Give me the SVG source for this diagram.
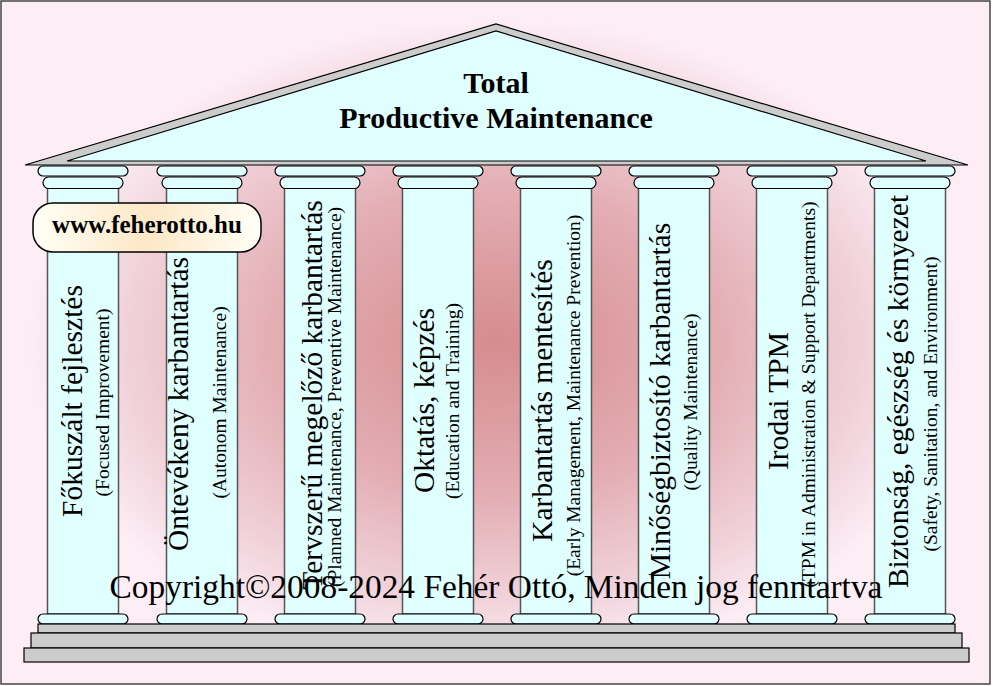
<svg xmlns="http://www.w3.org/2000/svg" width="993" height="686" viewBox="0 0 993 686">
<defs>
<radialGradient id="bg" cx="50%" cy="50%" r="50%">
<stop offset="0" stop-color="#d68c8e"/>
<stop offset="0.45" stop-color="#e3aeb4"/>
<stop offset="0.75" stop-color="#f1d2da"/>
<stop offset="0.95" stop-color="#fdeef6"/>
<stop offset="1" stop-color="#fdeef6"/>
</radialGradient>
<linearGradient id="wg" x1="0" y1="0" x2="1" y2="0">
<stop offset="0" stop-color="#fffff6"/>
<stop offset="0.5" stop-color="#fde7c6"/>
<stop offset="1" stop-color="#fffff6"/>
</linearGradient>
<style>
.pill{fill:#e0ffff;stroke:#000;stroke-width:1.2}
.shaft{fill:#e0ffff;stroke:#555;stroke-width:1.5}
.step{fill:#cccccc;stroke:#000;stroke-width:1.2}
.main{font-family:"Liberation Serif","Times New Roman",serif;font-size:29.5px;fill:#000}
.sub{font-family:"Liberation Serif","Times New Roman",serif;font-size:19.5px;fill:#000}
.title{font-family:"Liberation Serif","Times New Roman",serif;font-size:30px;font-weight:bold;fill:#000}
</style>
</defs>
<rect x="1" y="1" width="989" height="683" fill="url(#bg)" stroke="#444" stroke-width="1.5"/>

<g id="col1">
<rect class="shaft" x="47.5" y="188" width="71" height="426"/>
<rect class="pill" x="38" y="166" width="90" height="10" rx="5"/>
<rect class="pill" x="43" y="177" width="80" height="11.5" rx="5.75"/>
<rect class="pill" x="38" y="614" width="90" height="10" rx="5"/>
<text class="main" text-anchor="middle" transform="translate(82,401) rotate(-90)">Főkuszált fejlesztés</text>
<text class="sub" text-anchor="middle" transform="translate(109,402.5) rotate(-90)">(Focused Improvement)</text>
</g>
<g id="col2">
<rect class="shaft" x="166.5" y="188" width="71" height="426"/>
<rect class="pill" x="157" y="166" width="90" height="10" rx="5"/>
<rect class="pill" x="162" y="177" width="80" height="11.5" rx="5.75"/>
<rect class="pill" x="157" y="614" width="90" height="10" rx="5"/>
<text class="main" text-anchor="middle" transform="translate(188,404) rotate(-90)">Öntevékeny karbantartás</text>
<text class="sub" text-anchor="middle" transform="translate(226,402.5) rotate(-90)">(Autonom Maintenance)</text>
</g>
<g id="col3">
<rect class="shaft" x="284.5" y="188" width="71" height="426"/>
<rect class="pill" x="275" y="166" width="90" height="10" rx="5"/>
<rect class="pill" x="280" y="177" width="80" height="11.5" rx="5.75"/>
<rect class="pill" x="275" y="614" width="90" height="10" rx="5"/>
<text class="main" text-anchor="middle" transform="translate(322,395) rotate(-90)">Tervszerű megelőző karbantartás</text>
<text class="sub" text-anchor="middle" transform="translate(341,397) rotate(-90)">(Planned Maintenance, Preventive Maintenance)</text>
</g>
<g id="col4">
<rect class="shaft" x="402.5" y="188" width="71" height="426"/>
<rect class="pill" x="393" y="166" width="90" height="10" rx="5"/>
<rect class="pill" x="398" y="177" width="80" height="11.5" rx="5.75"/>
<rect class="pill" x="393" y="614" width="90" height="10" rx="5"/>
<text class="main" text-anchor="middle" transform="translate(434,400.5) rotate(-90)">Oktatás, képzés</text>
<text class="sub" text-anchor="middle" transform="translate(459,401) rotate(-90)">(Education and Training)</text>
</g>
<g id="col5">
<rect class="shaft" x="520.5" y="188" width="71" height="426"/>
<rect class="pill" x="511" y="166" width="90" height="10" rx="5"/>
<rect class="pill" x="516" y="177" width="80" height="11.5" rx="5.75"/>
<rect class="pill" x="511" y="614" width="90" height="10" rx="5"/>
<text class="main" text-anchor="middle" transform="translate(552,400.5) rotate(-90)">Karbantartás mentesítés</text>
<text class="sub" text-anchor="middle" transform="translate(580,395.5) rotate(-90)">(Early Management, Maintenance Prevention)</text>
</g>
<g id="col6">
<rect class="shaft" x="638.5" y="188" width="71" height="426"/>
<rect class="pill" x="629" y="166" width="90" height="10" rx="5"/>
<rect class="pill" x="634" y="177" width="80" height="11.5" rx="5.75"/>
<rect class="pill" x="629" y="614" width="90" height="10" rx="5"/>
<text class="main" text-anchor="middle" transform="translate(670,401) rotate(-90)">Minőségbiztosító karbantartás</text>
<text class="sub" text-anchor="middle" transform="translate(697,402) rotate(-90)">(Quality Maintenance)</text>
</g>
<g id="col7">
<rect class="shaft" x="756.5" y="188" width="71" height="426"/>
<rect class="pill" x="747" y="166" width="90" height="10" rx="5"/>
<rect class="pill" x="752" y="177" width="80" height="11.5" rx="5.75"/>
<rect class="pill" x="747" y="614" width="90" height="10" rx="5"/>
<text class="main" text-anchor="middle" transform="translate(788,401) rotate(-90)">Irodai TPM</text>
<text class="sub" text-anchor="middle" transform="translate(815,394.5) rotate(-90)">(TPM in Administration &amp; Support Departments)</text>
</g>
<g id="col8">
<rect class="shaft" x="874.5" y="188" width="71" height="426"/>
<rect class="pill" x="865" y="166" width="90" height="10" rx="5"/>
<rect class="pill" x="870" y="177" width="80" height="11.5" rx="5.75"/>
<rect class="pill" x="865" y="614" width="90" height="10" rx="5"/>
<text class="main" text-anchor="middle" transform="translate(908,391.5) rotate(-90)">Biztonság, egészség és környezet</text>
<text class="sub" text-anchor="middle" transform="translate(937,404) rotate(-90)">(Safety, Sanitation, and Environment)</text>
</g>

<g id="base">
<rect class="step" x="38" y="624" width="917" height="9"/>
<rect class="step" x="31" y="633" width="931" height="15"/>
<rect class="step" x="24" y="648" width="945" height="14"/>
</g>

<g id="roof">
<polygon points="25,165 496,24 968,165" fill="#cccccc" stroke="#000" stroke-width="1.2"/>
<polygon points="67,161 496,31 926,161" fill="#e0ffff" stroke="#000" stroke-width="1.2"/>
<text class="title" text-anchor="middle" x="496" y="93">Total</text>
<text class="title" text-anchor="middle" x="496" y="128">Productive Maintenance</text>
</g>

<g id="www">
<rect x="33" y="203" width="228" height="49" rx="20" fill="url(#wg)" stroke="#000" stroke-width="1.5"/>
<text x="147" y="233" text-anchor="middle" font-family="'Liberation Serif','Times New Roman',serif" font-size="25" font-weight="bold">www.feherotto.hu</text>
</g>

<g id="copyright">
<text x="496" y="598" text-anchor="middle" font-family="'Liberation Serif','Times New Roman',serif" font-size="33.4" fill="#000">Copyright©2008-2024 Fehér Ottó, Minden jog fenntartva</text>
</g>
</svg>
